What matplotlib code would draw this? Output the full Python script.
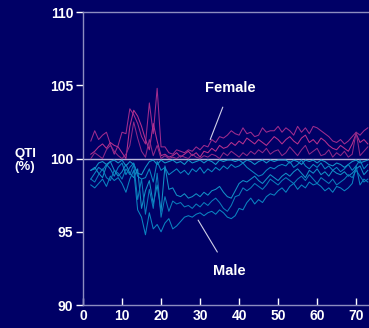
import matplotlib
matplotlib.use("Agg")
import matplotlib.pyplot as plt
import numpy as np

plt.rcParams['font.family'] = ['Liberation Sans', 'DejaVu Sans']

ages = np.arange(2, 74)

female_1 = [101.2, 101.9, 101.3, 101.6, 101.8, 101.0, 100.3, 100.9, 101.8, 101.7,
            103.4, 103.0, 102.4, 101.5, 101.0, 103.8, 101.7, 104.8, 100.8, 100.8,
            100.4, 100.3, 100.6, 100.5, 100.4, 100.6, 100.5, 100.8, 100.6, 100.9,
            100.8, 101.3, 101.1, 101.5, 101.4, 101.6, 101.9, 101.7, 101.6, 102.1,
            101.7, 101.8, 101.5, 101.6, 102.1, 101.8, 101.9, 101.9, 102.2, 101.8,
            102.1, 101.9, 101.6, 102.2, 101.8, 102.1, 101.7, 102.2, 102.1, 101.9,
            101.7, 101.5, 101.2, 101.1, 101.3, 101.0, 101.2, 101.5, 101.8, 101.6, 101.9, 102.1]
female_2 = [100.3, 100.5, 100.8, 101.0, 100.7, 101.1, 100.9, 100.8, 100.4, 100.0,
            102.2, 103.3, 102.9, 102.2, 101.3, 100.6, 102.4, 101.2, 100.2, 100.3,
            100.1, 100.2, 100.4, 100.1, 100.3, 100.5, 100.2, 100.4, 100.1, 100.5,
            100.4, 100.7, 100.5, 100.9, 100.7, 100.8, 101.1, 100.9, 101.2, 101.0,
            101.4, 101.2, 101.0, 101.3, 101.1, 100.9, 101.2, 101.5, 101.3, 101.0,
            101.3, 101.5, 101.2, 101.0, 101.4, 101.6, 101.1, 101.3, 101.0, 101.4,
            101.2, 100.9, 100.7, 100.6, 100.9, 100.7, 100.5, 101.0, 101.7, 101.1, 101.3, 101.0]
female_3 = [100.0, 100.4, 100.2, 100.0, 100.6, 100.9, 100.5, 100.2, 100.0, 100.3,
            100.9, 102.5, 101.4, 100.5, 100.1, 101.3, 100.2, 100.9, 100.0, 100.2,
            100.0, 100.1, 100.0, 100.2, 100.1, 100.0, 100.3, 100.1, 100.0, 100.2,
            100.1, 100.3, 100.2, 100.0, 100.4, 100.2, 100.5, 100.3, 100.1, 100.4,
            100.2, 100.5, 100.3, 100.6, 100.4, 100.7, 100.3, 100.5, 100.6, 100.2,
            100.4, 100.8, 100.5, 100.2, 100.6, 100.9, 100.3, 100.5, 100.7, 100.2,
            100.3, 100.6, 100.1, 100.4, 100.2, 100.5, 100.1, 100.3, 101.8, 100.2, 100.5, 100.8]

male_0 = [99.2, 99.3, 99.7, 99.8, 99.6, 99.8, 99.9, 99.7, 99.9, 99.5,
          99.8, 99.6, 99.0, 98.9, 99.4, 99.8, 99.9, 99.6, 99.9, 99.7,
          99.8, 99.9, 99.7, 99.8, 99.6, 99.9, 99.7, 99.8, 99.9, 99.7,
          99.9, 99.8, 99.6, 99.9, 99.8, 99.9, 99.9, 99.8, 99.9, 99.7,
          99.9, 99.8, 99.6, 99.8, 99.9, 99.7, 99.9, 99.8, 99.9, 99.9,
          99.9, 99.7, 99.9, 99.8, 99.6, 99.9, 99.8, 99.9, 99.7, 99.9,
          99.8, 99.6, 99.5, 99.7, 99.6, 99.4, 99.6, 99.8, 99.9, 99.7, 99.8, 99.9]
male_1 = [98.6, 99.0, 99.4, 99.2, 99.6, 99.3, 98.8, 99.4, 99.7, 98.9,
          99.4, 99.7, 98.8, 98.6, 98.7, 99.3, 98.4, 99.8, 99.2, 99.4,
          98.9, 99.1, 99.3, 99.0, 99.2, 98.9, 99.3, 99.1, 99.4, 99.0,
          99.3, 99.1, 99.4, 99.2, 99.5, 99.3, 99.6, 99.4, 99.5, 99.7,
          99.4, 99.2, 99.0, 98.8, 98.9, 99.2, 99.4, 99.3, 99.5, 99.6,
          99.5, 99.8, 99.4, 99.6, 99.9, 99.5, 99.3, 99.6, 99.4, 99.7,
          99.3, 99.5, 99.2, 99.4, 99.1, 99.3, 99.6, 99.2, 99.5, 99.9, 99.3, 99.6]
male_2 = [99.2, 99.4, 99.0, 98.7, 99.5, 99.8, 99.2, 98.8, 99.1, 99.6,
          99.0, 98.7, 99.3, 96.6, 97.8, 98.5, 96.9, 98.2, 96.4, 99.5,
          97.9, 98.0, 97.5, 97.4, 97.6, 97.3, 97.4, 97.6, 97.4, 97.7,
          97.5, 97.8, 97.9, 98.1, 97.7, 97.4, 97.3, 97.8, 98.3, 98.5,
          98.4, 98.6, 98.8, 98.5, 98.3, 98.6, 98.9, 98.7, 98.5, 98.8,
          99.0, 98.8, 99.1, 99.3, 99.0, 98.7, 99.2, 99.0, 99.3, 98.9,
          99.1, 98.8, 99.2, 99.0, 98.9, 99.1, 98.8, 99.0, 99.3, 99.5, 98.9, 99.2]
male_3 = [98.6, 98.4, 98.9, 99.3, 98.7, 98.5, 99.2, 99.0, 98.6, 99.3,
          98.9, 99.6, 97.2, 98.6, 96.2, 97.9, 96.6, 99.0, 96.0, 97.4,
          96.4, 97.1, 96.9, 97.0, 96.7, 96.8, 96.6, 96.9, 96.7, 97.0,
          96.8, 97.1, 97.3, 97.0, 96.6, 96.4, 96.8, 97.4, 97.5, 98.0,
          97.8, 98.0, 98.3, 98.1, 97.9, 98.2, 98.6, 98.4, 98.2, 98.5,
          98.7, 98.5, 98.3, 98.6, 98.8, 98.5, 98.9, 98.6, 98.3, 98.7,
          98.5, 98.3, 98.6, 98.2, 98.4, 98.6, 98.9, 98.7, 99.2, 98.8, 98.4, 98.6]
male_4 = [98.2, 98.0, 98.3, 98.6, 98.1, 98.8, 98.5, 98.7, 98.3, 97.7,
          98.6, 99.2, 96.5, 96.0, 94.8, 96.3, 95.2, 95.5, 95.0, 95.6,
          95.9, 95.2, 95.4, 95.7, 96.0, 96.1, 96.0, 96.2, 96.3, 96.1,
          96.3, 96.4, 96.2, 96.5, 96.3, 96.0, 95.9, 96.1, 96.6, 96.5,
          97.0, 97.3, 96.9, 97.2, 97.0, 97.4, 97.6, 97.5, 97.8, 98.0,
          97.7, 98.1, 98.3, 97.9, 98.2, 98.0, 98.4, 98.2, 98.3, 98.1,
          97.8, 98.0, 97.7, 98.1, 98.0, 97.8, 98.0, 98.3, 99.5, 98.2, 98.6, 98.4]

x_ticks = [0, 10, 20, 30, 40, 50, 60, 70]
y_ticks = [90, 95, 100, 105, 110]

bg = '#000066'
axis_col = '#8c8cc0'

fig = plt.figure(figsize=(3.69, 3.28), dpi=100, facecolor=bg)
ax = fig.add_axes([0.225, 0.07, 0.775, 0.893])
ax.set_facecolor(bg)

female_cols = ['#a02c8e', '#b8318f', '#8e2a88']
male_cols = ['#1496cc', '#0a86c4', '#1290c8', '#0a7cbc', '#0a84c2']

ax.axhline(100, color='#b8b8dc', lw=1.0, zorder=1)

for vals, c in zip([female_1, female_2, female_3], female_cols):
    ax.plot(ages, vals, color=c, lw=0.75, zorder=2)
for vals, c in zip([male_0, male_1, male_2, male_3, male_4], male_cols):
    ax.plot(ages, vals, color=c, lw=0.75, zorder=2)

ax.set_xlim(0, 73.3)
ax.set_ylim(90, 110)
ax.set_xticks(x_ticks)
ax.set_yticks(y_ticks)

for s in ['left', 'bottom', 'top']:
    ax.spines[s].set_color(axis_col)
    ax.spines[s].set_linewidth(1.0)
ax.spines['right'].set_visible(False)

ax.tick_params(axis='y', direction='out', length=5, width=1, color='white',
               labelcolor='white', labelsize=10, pad=2)
ax.tick_params(axis='x', direction='in', length=5, width=1, color='white',
               labelcolor='white', labelsize=10, pad=3)
for lab in ax.get_xticklabels() + ax.get_yticklabels():
    lab.set_fontweight('bold')

fig.text(0.068, 0.51, 'QTI\n(%)', color='white', fontsize=9.5, fontweight='bold',
         ha='center', va='center', linespacing=1.15)

ax.annotate('Female', xy=(32.6, 101.3), xytext=(37.7, 104.8), color='white',
            fontsize=10.5, fontweight='bold', ha='center', va='center',
            arrowprops=dict(arrowstyle='-', color='#d0d0e8', lw=0.8,
                            shrinkA=7, shrinkB=0))
ax.annotate('Male', xy=(29.5, 95.8), xytext=(37.4, 92.3), color='white',
            fontsize=10.5, fontweight='bold', ha='center', va='center',
            arrowprops=dict(arrowstyle='-', color='#d0d0e8', lw=0.8,
                            shrinkA=8, shrinkB=0))

fig.savefig('out.png', dpi=100, facecolor=bg)
